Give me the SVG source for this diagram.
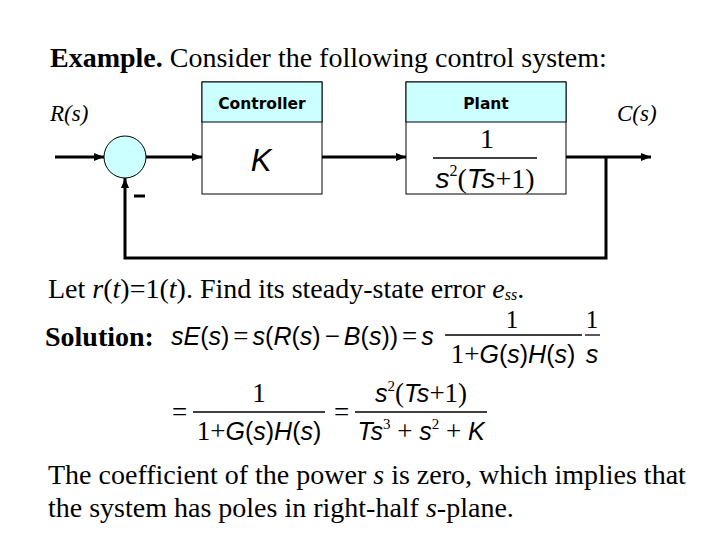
<svg xmlns="http://www.w3.org/2000/svg" width="720" height="540" viewBox="0 0 720 540">
<style>
.tm{font-family:"Liberation Serif","Times New Roman",serif;font-size:28px;fill:#000}
.lbl{font-family:"Liberation Serif","Times New Roman",serif;font-size:23px;font-style:italic;fill:#000}
.hdr{font-family:"DejaVu Sans",Tahoma,sans-serif;font-size:15.5px;font-weight:bold;fill:#000;text-anchor:middle}
.ar{font-family:"Liberation Sans",Arial,sans-serif;font-style:italic}
.nm{font-family:"Liberation Serif","Times New Roman",serif;font-style:normal}
.eq{font-family:"Liberation Sans",Arial,sans-serif;font-size:25px;fill:#000}
.box{fill:#fff;stroke:#000;stroke-width:1}
.head{fill:#ccffff;stroke:#000;stroke-width:1}
.wire{fill:none;stroke:#000;stroke-width:3}
.bar{stroke:#000;stroke-width:1.3}
</style>
<defs>
<marker id="ah" markerWidth="10" markerHeight="8" refX="10" refY="4" orient="auto" markerUnits="userSpaceOnUse">
<path d="M0,0 L10,4 L0,8 Z" fill="#000"/>
</marker>
</defs>
<rect width="720" height="540" fill="#fff"/>
<text class="tm" x="50" y="67"><tspan font-weight="bold">Example.</tspan> Consider the following control system:</text>
<text class="lbl" x="50" y="121">R(s)</text>
<text class="lbl" x="617" y="121">C(s)</text>
<g id="connectors">
<line class="wire" x1="55" y1="157" x2="104" y2="157" marker-end="url(#ah)"/>
<line class="wire" x1="146" y1="157" x2="202" y2="157" marker-end="url(#ah)"/>
<line class="wire" x1="322" y1="157" x2="406" y2="157" marker-end="url(#ah)"/>
<line class="wire" x1="566" y1="157" x2="651" y2="157" marker-end="url(#ah)"/>
<polyline class="wire" points="606,157 606,258 125,258 125,178" marker-end="url(#ah)"/>
<line x1="134" y1="196" x2="145" y2="196" stroke="#000" stroke-width="3"/>
</g>
<g id="sum">
<circle cx="125" cy="157" r="21" fill="#ccffff" stroke="#000" stroke-width="1"/>
</g>
<g id="controller">
<rect class="box" x="202" y="82" width="120" height="112"/>
<rect class="head" x="202" y="82" width="120" height="40"/>
<text class="hdr" x="262" y="109">Controller</text>
<text class="ar" x="261" y="171" font-size="31" text-anchor="middle">K</text>
</g>
<g id="plant">
<rect class="box" x="406" y="82" width="160" height="112"/>
<rect class="head" x="406" y="82" width="160" height="40"/>
<text class="hdr" x="486" y="109">Plant</text>
<text class="nm" x="487" y="148" font-size="28" text-anchor="middle">1</text>
<line class="bar" x1="433" y1="158" x2="537" y2="158"/>
<text x="485" y="188" font-size="28" text-anchor="middle"><tspan class="ar">s</tspan><tspan class="nm" font-size="16" dy="-12">2</tspan><tspan class="nm" dy="12">(</tspan><tspan class="ar">Ts</tspan><tspan class="nm">+1)</tspan></text>
</g>
<text class="tm" x="48" y="298">Let <tspan font-style="italic">r</tspan>(<tspan font-style="italic">t</tspan>)=1(<tspan font-style="italic">t</tspan>). Find its steady-state error <tspan font-style="italic">e</tspan><tspan font-style="italic" font-size="16" dy="2">ss</tspan><tspan dy="-2">.</tspan></text>
<text class="tm" x="45" y="346" font-weight="bold">Solution:</text>
<g id="eq1">
<text class="eq" x="171" y="345"><tspan class="ar">sE</tspan>(<tspan class="ar">s</tspan>)<tspan class="nm" font-size="27" dx="4">=</tspan><tspan class="ar" dx="4">s</tspan>(<tspan class="ar">R</tspan>(<tspan class="ar">s</tspan>)<tspan class="nm" font-size="27" dx="4">−</tspan><tspan class="ar" dx="4">B</tspan>(<tspan class="ar">s</tspan>))<tspan class="nm" font-size="27" dx="4">=</tspan><tspan class="ar" dx="4">s</tspan></text>
<text class="nm" x="512" y="328" font-size="25" text-anchor="middle">1</text>
<line class="bar" x1="445" y1="335" x2="582" y2="335"/>
<text class="eq" x="513" y="363" text-anchor="middle"><tspan class="nm" font-size="27">1+</tspan><tspan class="ar">G</tspan>(<tspan class="ar">s</tspan>)<tspan class="ar">H</tspan>(<tspan class="ar">s</tspan>)</text>
<text class="nm" x="592" y="328" font-size="25" text-anchor="middle">1</text>
<line class="bar" x1="585" y1="335" x2="600" y2="335"/>
<text class="eq" x="592" y="363" text-anchor="middle"><tspan class="ar">s</tspan></text>
</g>
<g id="eq2">
<text class="nm" x="172" y="421" font-size="27">=</text>
<text class="nm" x="259" y="402" font-size="27" text-anchor="middle">1</text>
<line class="bar" x1="193" y1="412" x2="325" y2="412"/>
<text class="eq" x="259" y="440" text-anchor="middle"><tspan class="nm" font-size="27">1+</tspan><tspan class="ar">G</tspan>(<tspan class="ar">s</tspan>)<tspan class="ar">H</tspan>(<tspan class="ar">s</tspan>)</text>
<text class="nm" x="334" y="421" font-size="27">=</text>
<text class="eq" x="421" y="402" text-anchor="middle"><tspan class="ar">s</tspan><tspan class="nm" font-size="15" dy="-11">2</tspan><tspan class="nm" font-size="27" dy="11">(</tspan><tspan class="ar">Ts</tspan><tspan class="nm" font-size="27">+1)</tspan></text>
<line class="bar" x1="355" y1="412" x2="487" y2="412"/>
<text class="eq" x="421" y="440" text-anchor="middle"><tspan class="ar">Ts</tspan><tspan class="nm" font-size="15" dy="-11">3</tspan><tspan class="nm" font-size="27" dy="11"> + </tspan><tspan class="ar">s</tspan><tspan class="nm" font-size="15" dy="-11">2</tspan><tspan class="nm" font-size="27" dy="11"> + </tspan><tspan class="ar">K</tspan></text>
</g>
<text class="tm" x="48" y="484">The coefficient of the power <tspan font-style="italic">s</tspan> is zero, which implies that</text>
<text class="tm" x="48" y="517">the system has poles in right-half <tspan font-style="italic">s</tspan>-plane.</text>
</svg>
